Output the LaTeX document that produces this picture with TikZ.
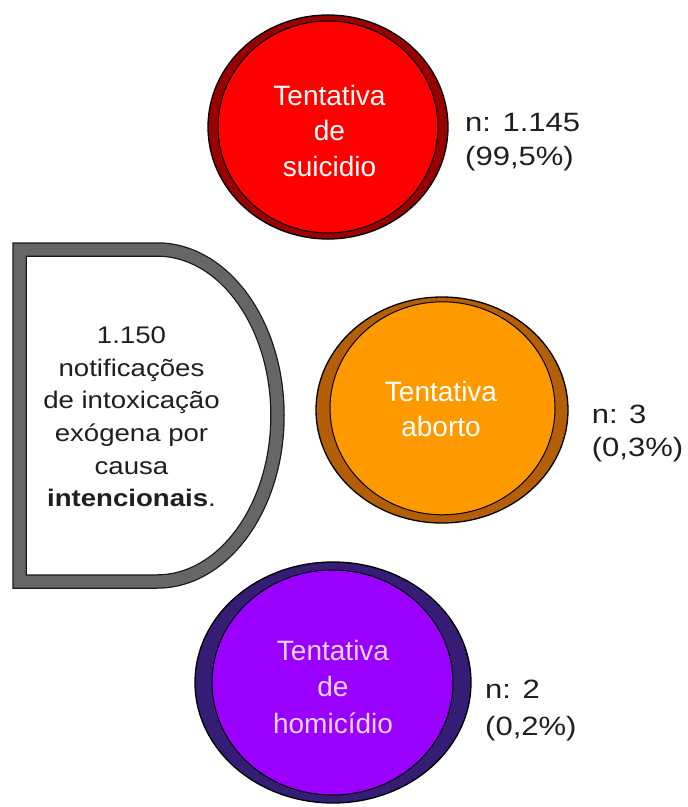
\documentclass[tikz,border=0pt]{standalone}
\usepackage{fontspec}
\setmainfont{Liberation Sans}
\newfontfamily\circfont{Liberation Sans}
\newfontfamily\boxfont[FakeStretch=1.15]{Liberation Sans}
\newfontfamily\labfont[FakeStretch=1.17]{Liberation Sans}
\usetikzlibrary{shapes.geometric}
\definecolor{ringred}{HTML}{990000}
\definecolor{fillred}{HTML}{FF0000}
\definecolor{ringorange}{HTML}{B45F06}
\definecolor{fillorange}{HTML}{FF9900}
\definecolor{ringpurple}{HTML}{351C75}
\definecolor{fillpurple}{HTML}{9900FF}
\definecolor{boxgray}{HTML}{666666}
\definecolor{lavtext}{HTML}{EED4FF}
\definecolor{inktext}{HTML}{1F1F1F}
\tikzset{
  ring/.style={ellipse, inner sep=0pt, draw=black, line width=1.3pt},
  core/.style={ellipse, inner sep=0pt, draw=black, line width=1pt},
  circtext/.style={anchor=base, inner sep=0pt, font=\circfont},
  labtext/.style={anchor=base west, inner sep=0pt, text=inktext, font=\labfont},
  boxtext/.style={anchor=base, inner sep=0pt, text=inktext, font=\boxfont},
}
\begin{document}
\begin{tikzpicture}[x=1pt,y=-1pt]
\fill[white] (0,0) rectangle (688,807);
\useasboundingbox (0,0) rectangle (688,807);

% D-shaped box
\def\dpath{(19.5,249.5) -- (157,249.5) .. controls (223.55,249.5) and (277.5,323.82) .. (277.5,415.5) .. controls (277.5,507.18) and (223.55,581.5) .. (157,581.5) -- (19.5,581.5) -- cycle}
\draw[line width=14.5pt, black!90, line join=miter] \dpath;
\draw[line width=12pt, boxgray, line join=miter] \dpath;
\node[boxtext] (boxlabel) at (131.5,343.3) {\fontsize{24}{32.7}\selectfont\begin{tabular}[t]{@{}c@{}}1.150\\notificações\\de intoxicação\\exógena por\\causa\\\textbf{intencionais}.\end{tabular}};

% red circle
\node[ring, fill=ringred, minimum width=240pt, minimum height=224pt] (redout) at (328,127) {};
\node[core, fill=fillred, minimum width=220pt, minimum height=212pt] (redin) at (328,127) {};
\node[circtext, text=white] (redtext) at (329.5,105) {\fontsize{28}{35.5}\selectfont\begin{tabular}[t]{@{}c@{}}Tentativa\\de\\suicidio\end{tabular}};
\node[labtext] (redlab) at (465,131.7) {\fontsize{26.5}{33.3}\selectfont\begin{tabular}[t]{@{}l@{}}n: 1.145\\(99,5\%)\end{tabular}};

% orange circle
\node[ring, fill=ringorange, minimum width=252pt, minimum height=226pt] (orout) at (442,410) {};
\node[core, fill=fillorange, minimum width=225pt, minimum height=213pt] (orin) at (442.5,408.3) {};
\node[circtext, text=white] (ortext) at (441,401.7) {\fontsize{28}{35}\selectfont\begin{tabular}[t]{@{}c@{}}Tentativa\\aborto\end{tabular}};
\node[labtext] (orlab) at (591.7,423.3) {\fontsize{26.5}{33}\selectfont\begin{tabular}[t]{@{}l@{}}n: 3\\(0,3\%)\end{tabular}};

% purple circle
\node[ring, fill=ringpurple, minimum width=276pt, minimum height=241pt] (puout) at (333,682.5) {};
\node[core, fill=fillpurple, minimum width=241pt, minimum height=225pt] (puin) at (332.5,682.5) {};
\node[circtext, text=lavtext] (putext) at (333,660) {\fontsize{28}{36.5}\selectfont\begin{tabular}[t]{@{}c@{}}Tentativa\\de\\homicídio\end{tabular}};
\node[labtext] (pulab) at (485,698.3) {\fontsize{26.5}{36.7}\selectfont\begin{tabular}[t]{@{}l@{}}n: 2\\(0,2\%)\end{tabular}};
\end{tikzpicture}
\end{document}
